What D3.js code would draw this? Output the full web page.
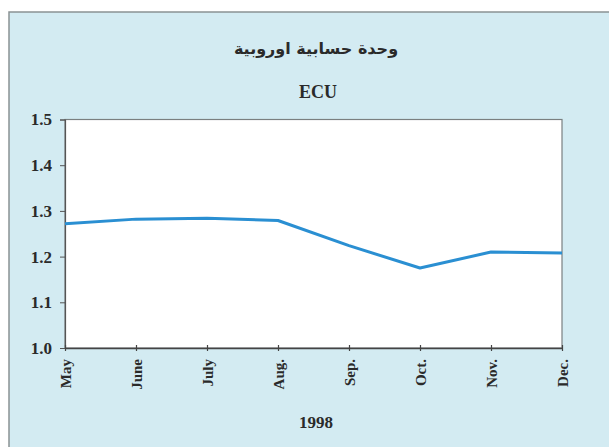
<!DOCTYPE html>
<html><head><meta charset="utf-8">
<script src="https://cdn.jsdelivr.net/npm/d3@7"></script>
<style>html,body{margin:0;padding:0;background:#fff;}svg{display:block;}</style>
</head><body>
<script>
const months = ["May","June","July","Aug.","Sep.","Oct.","Nov.","Dec."];
const ecuValues = [1.272, 1.282, 1.284, 1.279, 1.224, 1.175, 1.210, 1.208];
const yTicks = [1.0, 1.1, 1.2, 1.3, 1.4, 1.5];
const titleArabic = "وحدة حسابية اوروبية";
const titleLatin = "ECU";
const xTitle = "1998";

const W = 609, H = 447;
const svg = d3.select("body").append("svg").attr("width", W).attr("height", H);

// outer panel
svg.append("rect").attr("x",0).attr("y",0).attr("width",W).attr("height",H).attr("fill","#ffffff");
svg.append("rect").attr("x",9).attr("y",12).attr("width",W+10).attr("height",H+10)
  .attr("fill","#d3ebf2").attr("stroke","#8a9294").attr("stroke-width",1.5);

const pL = 65, pR = 562, pT = 119.5, pB = 348;
const x = d3.scalePoint().domain(months).range([pL, pR]);
const y = d3.scaleLinear().domain([1.0, 1.5]).range([pB, pT]);

// plot area
svg.append("rect").attr("x",pL).attr("y",pT).attr("width",pR-pL).attr("height",pB-pT)
  .attr("fill","#ffffff").attr("stroke","#7a7f80").attr("stroke-width",1.2);

const serif = "'Liberation Serif','Times New Roman',serif";

// y axis
const yAxis = svg.append("g").attr("transform",`translate(${pL},0)`)
  .call(d3.axisLeft(y).tickValues(yTicks).tickFormat(d3.format(".1f")).tickSize(5).tickPadding(8));
yAxis.select(".domain").attr("stroke","#555").attr("stroke-width",1.2);
yAxis.selectAll(".tick line").attr("stroke","#555");
yAxis.selectAll(".tick text").attr("font-family",serif).attr("font-weight","bold")
  .attr("font-size",17).attr("fill","#2a2a2a");

// x axis
const xAxis = svg.append("g").attr("transform",`translate(0,${pB})`)
  .call(d3.axisBottom(x).tickSize(0).tickPadding(0));
xAxis.select(".domain").attr("stroke","#444").attr("stroke-width",1.6);
xAxis.selectAll(".tick line").remove();
xAxis.selectAll(".tick").append("line").attr("y1",-3).attr("y2",3).attr("stroke","#444").attr("stroke-width",1.2);
xAxis.selectAll(".tick text")
  .attr("font-family",serif).attr("font-weight","bold").attr("font-size",15).attr("fill","#2a2a2a")
  .attr("transform","rotate(-90)").attr("text-anchor","end")
  .attr("x",-11).attr("y",0).attr("dy","0.35em");

// line
svg.append("path").datum(ecuValues)
  .attr("d", d3.line().x((d,i)=>x(months[i])).y(d=>y(d)))
  .attr("fill","none").attr("stroke","#2a8fd2").attr("stroke-width",3).attr("stroke-linejoin","round");

// titles
svg.append("text").attr("x",316).attr("y",54).attr("text-anchor","middle")
  .attr("font-family","'DejaVu Sans',sans-serif").attr("font-weight","bold").attr("font-size",16)
  .attr("fill","#2a2a2a").attr("direction","rtl").style("unicode-bidi","plaintext").text(titleArabic);
svg.append("text").attr("x",318).attr("y",98).attr("text-anchor","middle")
  .attr("font-family",serif).attr("font-weight","bold").attr("font-size",18).attr("fill","#2a2a2a").text(titleLatin);
svg.append("text").attr("x",316).attr("y",428).attr("text-anchor","middle")
  .attr("font-family",serif).attr("font-weight","bold").attr("font-size",17).attr("fill","#2a2a2a").text(xTitle);
</script>
</body></html>
